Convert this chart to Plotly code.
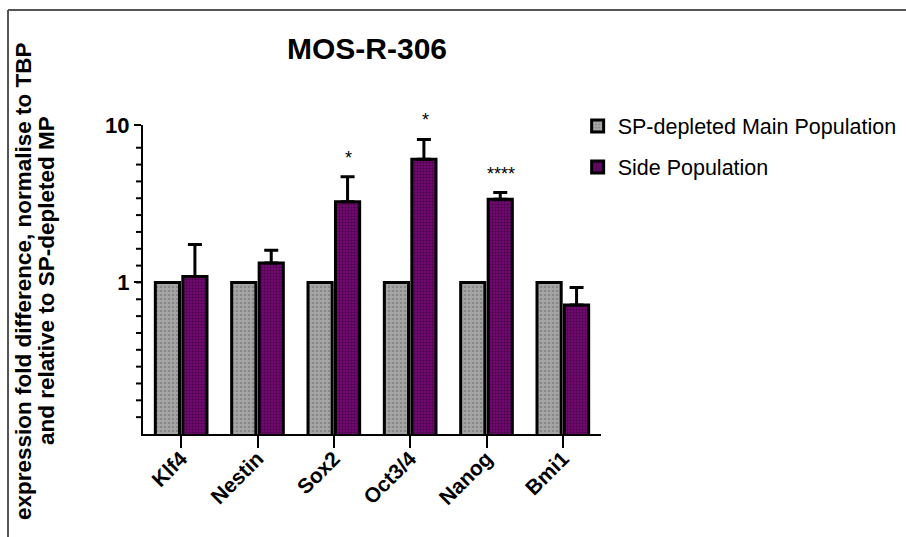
import math
import plotly.graph_objects as go

categories = ["Klf4", "Nestin", "Sox2", "Oct3/4", "Nanog", "Bmi1"]
mp_values = [1.0, 1.0, 1.0, 1.0, 1.0, 1.0]
sp_values = [1.09, 1.33, 3.26, 6.06, 3.38, 0.72]
sp_err_upper = [0.65, 0.27, 1.44, 2.04, 0.34, 0.21]
significance = ["", "", "*", "*", "****", ""]
y_ticks = [1, 10]
y_tick_labels = ["1", "10"]
y_title_lines = ["expression fold difference, normalise to TBP", "and relative to SP-depleted MP"]

FONT = "Arial, Liberation Sans, sans-serif"
W, H = 906, 537
L, R, T, B = 143, 305, 125, 103
ymin, ymax = 0.109, 10.0

fig = go.Figure()
fig.add_trace(go.Bar(
    x=categories, y=mp_values, name="SP-depleted Main Population",
    legendgroup="a",
    marker=dict(color="#a6a6a6", line=dict(color="black", width=3),
                pattern=dict(shape=".", fgcolor="#6a6a6a", bgcolor="#a6a6a6", size=4, solidity=0.35)),
))
fig.add_trace(go.Bar(
    x=categories, y=sp_values, name="Side Population",
    legendgroup="b",
    marker=dict(color="#7d0a7d", line=dict(color="black", width=3),
                pattern=dict(shape=".", fgcolor="#1a001a", bgcolor="#7d0a7d", size=3, solidity=0.5)),
    error_y=dict(type="data", symmetric=False, array=sp_err_upper,
                 arrayminus=[0] * len(sp_err_upper), color="black", thickness=3, width=7),
))

lo, hi = math.log10(ymin), math.log10(ymax)
step = -lo / 9
# evenly spaced minor ticks (as drawn in the original software)
minor_vals = [10 ** (lo + k * step) for k in range(1, 18)]

fig.update_layout(
    width=W, height=H,
    margin=dict(l=L, r=R, t=T, b=B, autoexpand=False),
    paper_bgcolor="white", plot_bgcolor="white",
    barmode="group", bargap=0.28, bargroupgap=0.12,
    font=dict(family=FONT, color="black"),
    title=dict(text="<b>MOS-R-306</b>", x=367 / W, xanchor="center",
               y=1 - 48 / H, yanchor="middle", font=dict(size=30, family=FONT)),
    xaxis=dict(type="category", range=[-0.5, 5.5], showline=True, linecolor="black",
               linewidth=2, ticks="outside", ticklen=12, tickwidth=1.5, tickcolor="black",
               tickangle=-45, tickfont=dict(size=21, family=FONT, weight="bold"),
               ticklabelstandoff=-10, showgrid=False, zeroline=False),
    yaxis=dict(type="log", range=[lo, hi], showline=True, linecolor="black", linewidth=2,
               tickmode="array", tickvals=y_ticks, ticktext=y_tick_labels, ticks="outside", ticklen=7,
               tickwidth=2, tickcolor="black", tickfont=dict(size=22, family=FONT, weight="bold"),
               showgrid=False, zeroline=False),
    legend=dict(x=0.949, y=1.063, xanchor="left", yanchor="top",
                font=dict(size=21.5, family=FONT), tracegroupgap=10,
                bgcolor="rgba(0,0,0,0)"),
    showlegend=True,
)

pw, ph = W - L - R, H - T - B

# evenly spaced minor tick marks on the y axis (axis decoration, placed on the axis scale)
for v in minor_vals:
    yp = (math.log10(v) - lo) / (hi - lo)
    fig.add_shape(type="line", xref="paper", yref="paper", x0=-7 / pw, x1=0,
                  y0=yp, y1=yp, line=dict(color="black", width=2), layer="above")

# y-axis title as rotated annotations (one per line)
for line_text, px in zip(y_title_lines, [23, 46]):
    fig.add_annotation(
        text="<b>" + line_text + "</b>",
        xref="paper", yref="paper", x=(px - L) / pw, y=(H - B - 281) / ph,
        xanchor="center", yanchor="middle", textangle=-90, showarrow=False,
        font=dict(size=22.5, family=FONT),
    )

# significance marks
for i, (v, e, s) in enumerate(zip(sp_values, sp_err_upper, significance)):
    if s:
        fig.add_annotation(x=i + 0.196, y=math.log10(v + e), xref="x", yref="y", text=s,
                           showarrow=False, yanchor="middle", yshift=19,
                           font=dict(size=18, family=FONT))

# outer frame (top and left edges)
fig.add_shape(type="line", xref="paper", yref="paper",
              x0=(8 - L) / pw, x1=(W - L) / pw, y0=(H - B - 10) / ph, y1=(H - B - 10) / ph,
              line=dict(color="#555555", width=2))
fig.add_shape(type="line", xref="paper", yref="paper",
              x0=(8 - L) / pw, x1=(8 - L) / pw, y0=(H - B - 10) / ph, y1=(H - B - H) / ph,
              line=dict(color="#555555", width=2))

fig.write_html("out.html")
